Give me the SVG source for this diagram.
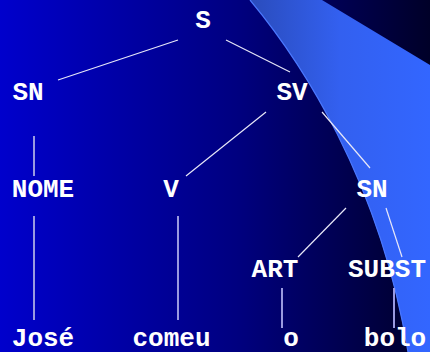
<svg xmlns="http://www.w3.org/2000/svg" width="430" height="352" viewBox="0 0 430 352">
<defs>
<linearGradient id="bg" x1="0" y1="0" x2="1" y2="0">
<stop offset="0" stop-color="#0000cc"/>
<stop offset="0.55" stop-color="#000080"/>
<stop offset="1" stop-color="#000028"/>
</linearGradient>
<linearGradient id="sw" gradientUnits="userSpaceOnUse" x1="250" y1="0" x2="430" y2="0">
<stop offset="0" stop-color="#2a4cbc"/>
<stop offset="0.5" stop-color="#3360f0"/>
<stop offset="1" stop-color="#3366ff"/>
</linearGradient>
<style>
.t{font-family:"Liberation Mono","Courier New",monospace;font-weight:bold;font-size:26px;fill:#ffffff;text-anchor:middle}
.d{stroke:#e8e8f8;stroke-width:1.2;fill:none}
.v{stroke:#9a9ae0;stroke-width:2;fill:none}
</style>
</defs>
<rect width="430" height="352" fill="url(#bg)"/>
<path d="M250,0 C300,60 380,180 408,352 L430,352 L430,65 L322,0 Z" fill="url(#sw)"/>
<path d="M250,0 C300,60 380,180 408,352" stroke="#4a78ff" stroke-width="1.2" fill="none"/>
<g id="connectors">
<line class="d" x1="178" y1="40" x2="58" y2="80"/>
<line class="d" x1="226" y1="40" x2="290" y2="72"/>
<line class="v" x1="34" y1="136" x2="34" y2="176"/>
<line class="d" x1="266" y1="112" x2="186" y2="176"/>
<line class="d" x1="322" y1="112" x2="370" y2="168"/>
<line class="v" x1="34" y1="216" x2="34" y2="320"/>
<line class="v" x1="178" y1="216" x2="178" y2="320"/>
<line class="d" x1="346" y1="208" x2="298" y2="257"/>
<line class="d" x1="386" y1="208" x2="402" y2="257"/>
<line class="v" x1="282" y1="288" x2="282" y2="328"/>
<line class="v" x1="394" y1="288" x2="394" y2="328"/>
</g>
<g id="n-S"><text class="t" x="203" y="28">S</text></g>
<g id="n-SN1"><text class="t" x="28" y="100">SN</text></g>
<g id="n-SV"><text class="t" x="292" y="100">SV</text></g>
<g id="n-NOME"><text class="t" x="43" y="197">NOME</text></g>
<g id="n-V"><text class="t" x="171" y="197">V</text></g>
<g id="n-SN2"><text class="t" x="372" y="197">SN</text></g>
<g id="n-ART"><text class="t" x="275" y="277">ART</text></g>
<g id="n-SUBST"><text class="t" x="387" y="277">SUBST</text></g>
<g id="n-Jose"><text class="t" x="43" y="346">José</text></g>
<g id="n-comeu"><text class="t" x="171.5" y="346">comeu</text></g>
<g id="n-o"><text class="t" x="291" y="346">o</text></g>
<g id="n-bolo"><text class="t" x="395" y="346">bolo</text></g>
</svg>
